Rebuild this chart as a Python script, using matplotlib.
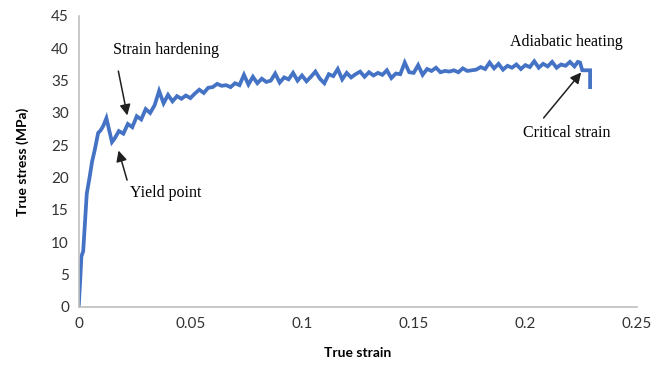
import matplotlib
matplotlib.use("Agg")
import matplotlib.pyplot as plt

# true stress-strain curve
strain_start = [0, 0.0008, 0.0012, 0.002, 0.0028, 0.0036, 0.0049, 0.006, 0.0072,
                0.0087, 0.0098, 0.011, 0.0124, 0.0136, 0.0149]
stress_start = [0, 5.0, 7.8, 8.6, 13.0, 17.5, 20.1, 22.5, 24.3,
                26.9, 27.3, 28.0, 29.2, 27.4, 25.5]

strain_mid = [0.016, 0.018, 0.020, 0.022, 0.024, 0.026, 0.028, 0.030, 0.032, 0.034,
              0.036, 0.038, 0.040, 0.042, 0.044, 0.046, 0.048, 0.050, 0.052, 0.054,
              0.056, 0.058, 0.060, 0.062, 0.064, 0.066, 0.068, 0.070, 0.072, 0.074,
              0.076, 0.078, 0.080, 0.082, 0.084, 0.086, 0.088, 0.090, 0.092, 0.094,
              0.096, 0.098, 0.100, 0.102, 0.104, 0.106, 0.108, 0.110, 0.112, 0.114,
              0.116, 0.118, 0.120, 0.122, 0.124, 0.126, 0.128, 0.130, 0.132, 0.134,
              0.136, 0.138, 0.140, 0.142, 0.144, 0.146, 0.148, 0.150, 0.152, 0.154,
              0.156, 0.158, 0.160, 0.162, 0.164, 0.166, 0.168, 0.170, 0.172, 0.174,
              0.176, 0.178, 0.180, 0.182, 0.184, 0.186, 0.188, 0.190, 0.192, 0.194,
              0.196, 0.198, 0.200, 0.202, 0.204, 0.206, 0.208, 0.210, 0.212, 0.214,
              0.216, 0.218, 0.220, 0.222]
stress_mid = [26.0, 27.2, 26.8, 28.3, 27.8, 29.5, 29.0, 30.6, 30.0, 31.2,
              33.4, 31.5, 32.8, 31.8, 32.6, 32.2, 32.7, 32.3, 33.0, 33.6,
              33.1, 33.9, 34.0, 34.5, 34.2, 34.3, 34.0, 34.6, 34.3, 35.9,
              34.4, 35.6, 34.6, 35.3, 34.8, 35.0, 36.1, 34.7, 35.5, 35.2,
              36.2, 35.0, 35.8, 34.9, 35.6, 36.4, 35.3, 34.6, 36.0, 35.7,
              36.8, 35.2, 36.2, 35.5, 36.0, 36.4, 35.6, 36.3, 35.8, 36.2,
              35.9, 36.6, 35.4, 36.1, 36.0, 37.8, 36.3, 36.2, 37.4, 35.9,
              36.8, 36.5, 37.0, 36.3, 36.5, 36.4, 36.6, 36.3, 36.9, 36.5,
              36.6, 36.7, 37.1, 36.8, 37.8, 36.9, 37.6, 36.7, 37.3, 37.0,
              37.5, 36.8, 37.4, 37.1, 38.0, 37.0, 37.6, 37.2, 37.9, 37.0,
              37.5, 37.3, 37.9, 37.2]

strain_end = [0.2235, 0.2245, 0.2255, 0.229, 0.229]
stress_end = [37.9, 37.8, 36.6, 36.6, 34.0]

strain = strain_start + strain_mid + strain_end
stress = stress_start + stress_mid + stress_end

xticks = [0, 0.05, 0.1, 0.15, 0.2, 0.25]
xtick_labels = ["0", "0.05", "0.1", "0.15", "0.2", "0.25"]
yticks = [0, 5, 10, 15, 20, 25, 30, 35, 40, 45]

fig = plt.figure(figsize=(6.67, 3.72), dpi=100)
ax = fig.add_axes([0.118, 0.175, 0.837, 0.782])

ax.plot(strain, stress, color="#4472C4", lw=2.7, solid_joinstyle="miter")

ax.set_xlim(0, 0.25)
ax.set_ylim(0, 45)
ax.set_xticks(xticks)
ax.set_xticklabels(xtick_labels)
ax.set_yticks(yticks)
ax.tick_params(length=0, labelsize=11, labelcolor="#333333", pad=7)
for lab in ax.get_xticklabels() + ax.get_yticklabels():
    lab.set_family("Lato")

for s in ["top", "right"]:
    ax.spines[s].set_visible(False)
for s in ["left", "bottom"]:
    ax.spines[s].set_color("#bfbfbf")
    ax.spines[s].set_linewidth(1.2)

ax.set_xlabel("True strain", fontsize=10, fontweight="bold", family="Lato", labelpad=12)
ax.set_ylabel("True stress (MPa)", fontsize=10, fontweight="bold", family="Lato", labelpad=16)

# annotations
serif = "Liberation Serif"
arrow = dict(arrowstyle="-|>", color="#202020", lw=1.1, mutation_scale=16)
ax.annotate("Strain hardening", xy=(0.022, 29.2), xytext=(0.039, 39.7),
            ha="center", va="center", fontsize=11.5, family=serif)
ax.annotate("", xy=(0.022, 29.2), xytext=(0.0175, 36.9), arrowprops=arrow)
ax.annotate("Yield point", xy=(0.0175, 24.6), xytext=(0.039, 17.6),
            ha="center", va="center", fontsize=11.5, family=serif)
ax.annotate("", xy=(0.0175, 24.6), xytext=(0.022, 19.2), arrowprops=arrow)
ax.text(0.2186, 41.0, "Adiabatic heating", ha="center", va="center",
        fontsize=11.5, family=serif)
ax.text(0.2186, 26.9, "Critical strain", ha="center", va="center",
        fontsize=11.5, family=serif)
ax.annotate("", xy=(0.2258, 36.6), xytext=(0.2074, 28.9), arrowprops=arrow)

fig.savefig("out.png", dpi=100)
